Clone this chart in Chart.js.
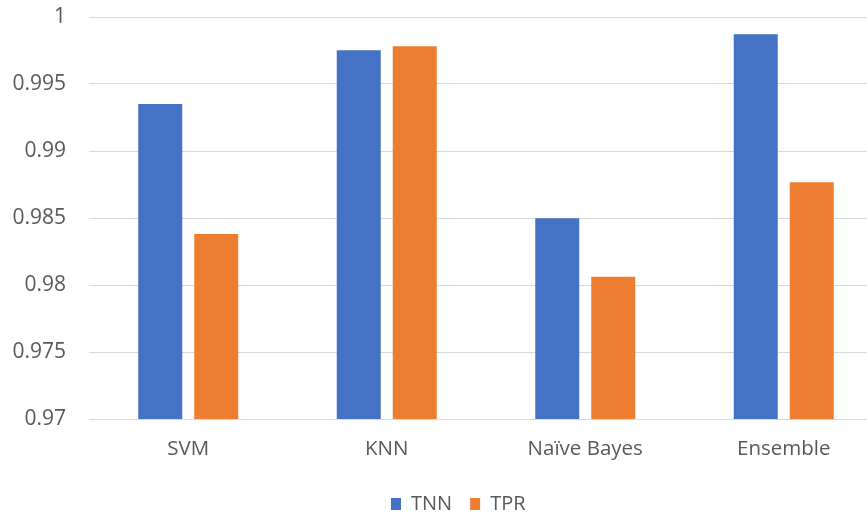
<!DOCTYPE html>
<html>
<head>
<meta charset="utf-8">
<script src="https://cdn.jsdelivr.net/npm/chart.js@4"></script>
<style>
html,body{margin:0;padding:0;background:#fff;overflow:hidden;}
#wrap{position:absolute;left:0;top:0;width:885px;height:515px;}
</style>
</head>
<body>
<div id="wrap"><canvas id="c" width="885" height="515"></canvas></div>
<script>
const categories = ["SVM", "KNN", "Naïve Bayes", "Ensemble"];
const seriesNames = ["TNN", "TPR"];
const tnnValues = [0.9935, 0.99752, 0.98499, 0.99871];
const tprValues = [0.9838, 0.99782, 0.98062, 0.98767];
const yMin = 0.97, yMax = 1, yStep = 0.005;

const FONT = '"Open Sans", "Liberation Sans", sans-serif';
const TXT = '#595959';
const GRID = '#d9d9d9';
const LEG_FONT = 20, LEG_PAD = 18, LEG_BOX_W = 10, LEG_BOX_H = 12;

const legendPlace = {
  id: 'legendPlace',
  afterLayout(chart) {
    const l = chart.legend;
    if (!l) return;
    const lw = (l.lineWidths && l.lineWidths.length) ? l.lineWidths[0] : 0;
    const firstX = (l.left + LEG_PAD + l.right - lw) / 2;
    const itemH = Math.max(LEG_FONT, LEG_BOX_H);
    const midY = l.top + LEG_PAD + itemH / 2;
    const dx = 391 - firstX;
    const dy = 504 - midY;
    l.left += dx; l.right += dx;
    l.top += dy; l.bottom += dy;
  }
};

new Chart(document.getElementById('c'), {
  type: 'bar',
  data: {
    labels: categories,
    datasets: [
      { label: seriesNames[0], data: tnnValues, backgroundColor: '#4472C4', borderWidth: 0 },
      { label: seriesNames[1], data: tprValues, backgroundColor: '#ED7D31', borderWidth: 0 }
    ]
  },
  plugins: [legendPlace],
  options: {
    responsive: false,
    animation: false,
    devicePixelRatio: 1,
    categoryPercentage: 0.5642,
    barPercentage: 0.7857,
    layout: { padding: { top: 17, left: 0, right: 2, bottom: 0 } },
    plugins: {
      tooltip: { enabled: false },
      legend: {
        position: 'bottom',
        labels: {
          font: { family: FONT, size: LEG_FONT },
          color: TXT,
          boxWidth: LEG_BOX_W,
          boxHeight: LEG_BOX_H,
          padding: LEG_PAD
        }
      }
    },
    scales: {
      x: {
        afterFit: (s) => { s.height = 48; },
        grid: { display: false, drawTicks: false },
        border: { display: true, color: GRID, width: 1 },
        ticks: { font: { family: FONT, size: 20.5 }, color: TXT, padding: 18, maxRotation: 0 }
      },
      y: {
        min: yMin, max: yMax,
        afterFit: (s) => { s.width = 89; s.paddingTop = 0; s.paddingBottom = 0; },
        grid: { color: GRID, lineWidth: 1, drawTicks: false },
        border: { display: false },
        ticks: {
          stepSize: yStep,
          font: { family: FONT, size: 21 },
          color: TXT,
          padding: 23,
          callback: (v) => String(Number(v.toFixed(3)))
        }
      }
    }
  }
});
</script>
</body>
</html>
